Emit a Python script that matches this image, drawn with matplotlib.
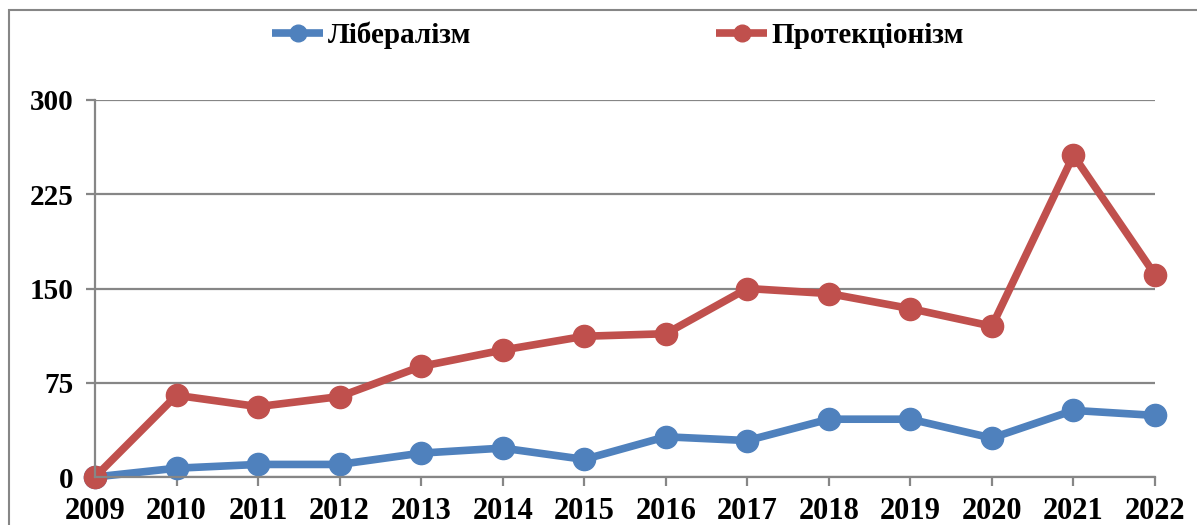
import matplotlib.pyplot as plt
from matplotlib.patches import Rectangle

years = ['2009', '2010', '2011', '2012', '2013', '2014', '2015',
         '2016', '2017', '2018', '2019', '2020', '2021', '2022']
liberalism = [0, 7, 10, 10, 19, 23, 14, 32, 29, 46, 46, 31, 53, 49]
protectionism = [0, 65, 56, 64, 88, 101, 112, 114, 150, 146, 134, 120, 256, 161]
y_ticks = [0, 75, 150, 225, 300]

plt.rcParams['font.family'] = ['Liberation Serif', 'DejaVu Serif']
plt.rcParams['font.weight'] = 'bold'

fig = plt.figure(figsize=(11.97, 5.25), dpi=100)
ax = fig.add_axes([95 / 1197, 1 - 477 / 525, (1155 - 95) / 1197, (477 - 100) / 525])

grey = '#868686'
x = list(range(len(years)))
ax.plot(x, liberalism, color='#4F81BD', lw=5.5, marker='o', ms=16,
        label='Лібералізм', solid_capstyle='butt')
ax.plot(x, protectionism, color='#C0504D', lw=5.5, marker='o', ms=16,
        label='Протекціонізм', solid_capstyle='butt')

ax.set_xlim(0, len(years) - 1)
ax.set_ylim(0, 300)
ax.set_yticks(y_ticks)
ax.set_yticklabels([str(v) for v in y_ticks], fontsize=21, fontweight='bold')
ax.set_xticks(x)
ax.set_xticklabels(years, fontsize=22, fontweight='bold')
ax.grid(axis='y', color=grey, lw=1.6)
ax.set_axisbelow(True)
for s in ['top', 'right']:
    ax.spines[s].set_visible(False)
for s in ['left', 'bottom']:
    ax.spines[s].set_color(grey)
    ax.spines[s].set_linewidth(1.6)
ax.tick_params(axis='both', length=6.5, width=1.6, color=grey)
ax.tick_params(axis='y', pad=9)
ax.tick_params(axis='x', pad=8)
for line in ax.lines:
    line.set_clip_on(False)

fig.legend(loc='center', bbox_to_anchor=(618 / 1197, 1 - 35 / 525), ncol=2,
           frameon=False, prop={'size': 21, 'weight': 'bold'},
           handlelength=1.75, handletextpad=0.15, columnspacing=8.4,
           markerscale=0.75)

fig.patches.append(Rectangle((9 / 1197, -0.2), 1.2, 1.2 - 10 / 525,
                             transform=fig.transFigure, fill=False,
                             edgecolor=grey, lw=1.5))

fig.savefig('out.png', dpi=100)
